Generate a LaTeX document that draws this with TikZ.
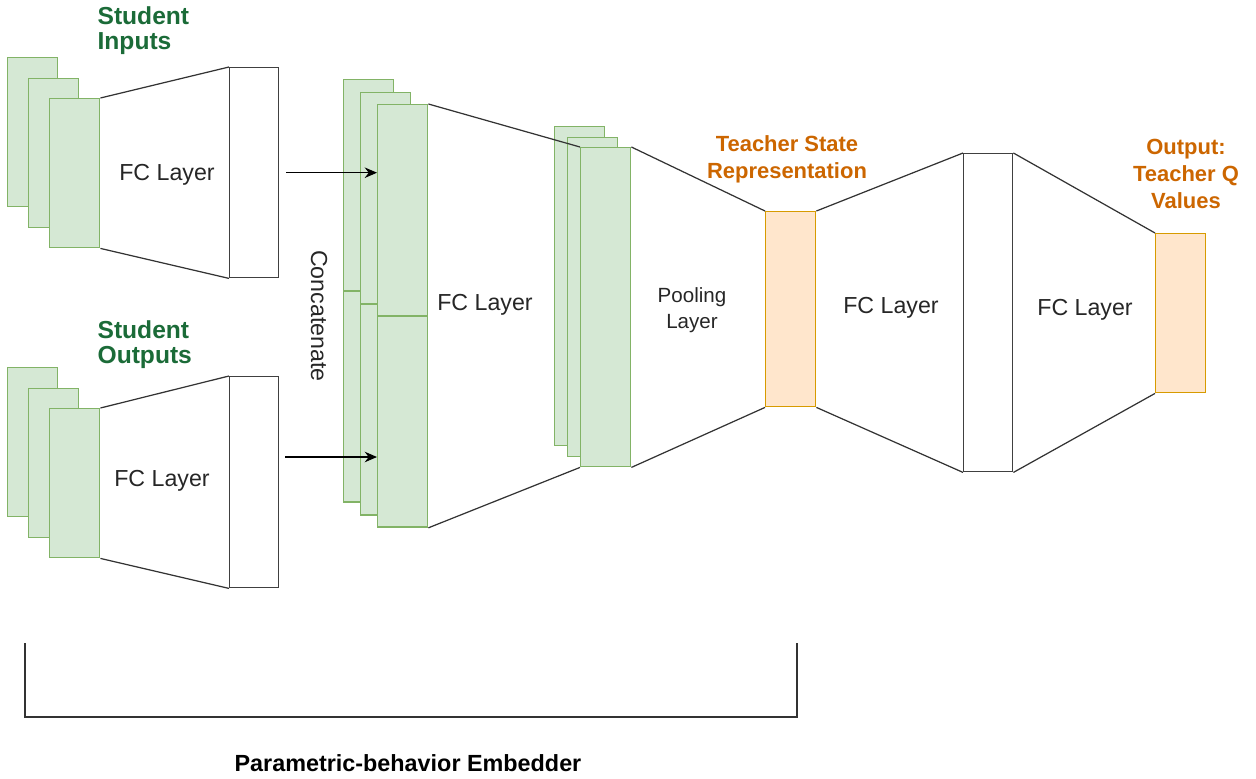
\documentclass[tikz,border=0pt]{standalone}
\usepackage{fontspec}
\setmainfont{Liberation Sans}
\usetikzlibrary{arrows.meta}
\definecolor{gfill}{HTML}{D5E8D4}
\definecolor{gline}{HTML}{82B366}
\definecolor{ofill}{HTML}{FFE6CC}
\definecolor{oline}{HTML}{D79B00}
\definecolor{gtext}{HTML}{1B6B38}
\definecolor{otext}{HTML}{CC6600}

\begin{document}
\begin{tikzpicture}[x=0.02cm, y=-0.02cm, line width=0.7pt,
    sheet/.style 2 args={draw, inner sep=0pt, anchor=north west,
        minimum width=#1*0.02cm, minimum height=#2*0.02cm},
    grn/.style={fill=gfill, draw=gline, line width=0.8pt},
    org/.style={fill=ofill, draw=oline, line width=0.8pt},
    wht/.style={fill=white, draw=black!75, line width=0.8pt},
    lbl/.style={font=\fontsize{13.2}{16}\selectfont, text=black!85},
    gtitle/.style={font=\bfseries\fontsize{14}{14.2}\selectfont, text=gtext,
        align=left, anchor=west, inner sep=0pt},
    otitle/.style={font=\bfseries\fontsize{12.5}{15.4}\selectfont, text=otext,
        align=center, inner sep=0pt}]
    \useasboundingbox (0,0) rectangle (1256,778);
    % student inputs / outputs
    \foreach \n/\x/\y in {ia/7/57, ib/28/78, ic/49/98, oa/7/367, ob/28/388, oc/49/408}
        \node[sheet={50}{149}, grn] (\n) at (\x,\y) {};
    \node[sheet={49}{210}, wht] (fi) at (229,67) {};
    \node[sheet={49}{211}, wht] (fo) at (229,376) {};
    % concatenated stack, two halves each
    \foreach \n/\x/\y in {ca/343/79, cb/360/92, cc/377/104} {
        \node[sheet={50}{210.5}, grn] (\n1) at (\x,\y) {};
        \node[sheet={50}{210.5}, grn] (\n2) at (\n1.south west) {};
    }
    % pooled stack
    \foreach \n/\x/\y in {pa/554/126, pb/567/137, pc/580/147}
        \node[sheet={50}{319}, grn] (\n) at (\x,\y) {};
    \node[sheet={50}{195}, org] (st) at (765,211) {};
    \node[sheet={49}{318}, wht] (fq) at (963,153) {};
    \node[sheet={50}{159}, org] (qv) at (1155,233) {};
    % layer outlines
    \draw[black!80]
        (ic.north east) -- (fi.north west) (ic.south east) -- (fi.south west)
        (oc.north east) -- (fo.north west) (oc.south east) -- (fo.south west)
        (cc1.north east) -- (pc.north west) (cc2.south east) -- (pc.south west)
        (pc.north east) -- (st.north west) (pc.south east) -- (st.south west)
        (st.north east) -- (fq.north west) (st.south east) -- (fq.south west)
        (fq.north east) -- (qv.north west) (fq.south east) -- (qv.south west);
    % concatenation arrows
    \coordinate (ai) at ([xshift=7*0.02cm]fi.east);
    \coordinate (ao) at (285,457);
    \draw[-{Stealth[length=7pt, width=6pt]}] (ai) -- (ai -| cc1.west);
    \draw[-{Stealth[length=7pt, width=6pt]}] (ao) -- (ao -| cc2.west);
    % labels
    \node[lbl] (l1) at (167,175) {FC Layer};
    \node[lbl] (l2) at (162,481) {FC Layer};
    \node[lbl] (l3) at (485,305) {FC Layer};
    \node[lbl] (l4) at (891,308) {FC Layer};
    \node[lbl] (l5) at (1085,310) {FC Layer};
    \node[lbl, font=\fontsize{11.7}{14.7}\selectfont, align=center] (l6) at (692,310) {Pooling\\Layer};
    \node[lbl, rotate=-90] (cat) at (319,316) {Concatenate};
    \node[gtitle] (tin) at (97,30.5) {Student\\Inputs};
    \node[gtitle] (tout) at (97,344.5) {Student\\Outputs};
    \node[otitle] (tst) at (787,159) {Teacher State\\Representation};
    \node[otitle] (tqv) at (1186,174) {Output:\\Teacher Q\\Values};
    % embedder bracket
    \draw[black!80] (25,643) |- (797,717) -- (797,643);
    \node[font=\bfseries\fontsize{13.3}{16}\selectfont] (emb) at (408,763) {Parametric-behavior Embedder};
\end{tikzpicture}
\end{document}
